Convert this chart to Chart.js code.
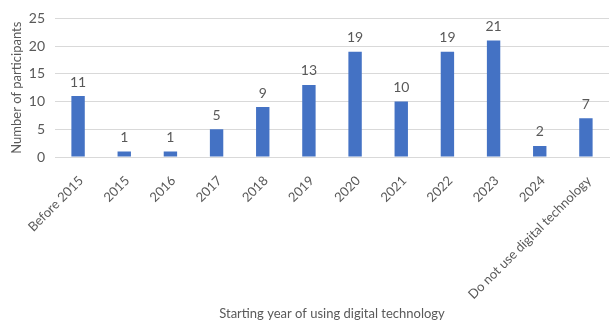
<!DOCTYPE html><html lang="en">
<head>
  <meta charset="UTF-8"/>
  <title>Starting year of using digital technology</title>
  <script src="https://cdn.jsdelivr.net/npm/chart.js"></script>
  <style>
    *{box-sizing:border-box;margin:0;padding:0}
    body{background:#fff;width:613px;height:322px;overflow:hidden}
    #wrap{position:relative;width:613px;height:322px}
  </style>
</head>
<body>
  <div id="wrap"><canvas id="chart"></canvas></div>
  <script>
    // chart data
    const categories=['Before 2015','2015','2016','2017','2018','2019','2020','2021','2022','2023','2024','Do not use digital technology'];
    const participants=[11,1,1,5,9,13,19,10,19,21,2,7];
    const yTicks=[0,5,10,15,20,25];

    const TEXT='#595959', FONT='Lato, "Open Sans", sans-serif';

    // value labels above each bar
    const barLabels={
      id:'barLabels',
      afterDatasetsDraw(chart){
        const ctx=chart.ctx;
        const meta=chart.getDatasetMeta(0);
        ctx.save();
        ctx.fillStyle=TEXT;
        ctx.font='14px '+FONT;
        ctx.textAlign='center';
        ctx.textBaseline='bottom';
        meta.data.forEach((bar,i)=>{
          ctx.fillText(String(participants[i]),bar.x,bar.y-7);
        });
        ctx.restore();
      }
    };

    new Chart(document.getElementById('chart'),{
      type:'bar',
      data:{labels:categories,datasets:[{data:participants,backgroundColor:'#4472C4',categoryPercentage:1,barPercentage:0.29}]},
      options:{
        responsive:true,maintainAspectRatio:false,animation:false,
        layout:{padding:{top:11,right:4,bottom:0,left:9}},
        plugins:{legend:{display:false},tooltip:{enabled:false}},
        scales:{
          x:{
            grid:{display:false},
            border:{color:'#d9d9d9'},
            ticks:{color:TEXT,font:{family:FONT,size:13},maxRotation:45,minRotation:45,autoSkip:false,padding:8,labelOffset:3},
            title:{display:true,text:'Starting year of using digital technology',color:TEXT,font:{family:FONT,size:13},padding:{top:4,bottom:0}},
            afterFit(s){s.height=165;}
          },
          y:{
            min:0,max:25,
            afterBuildTicks(s){s.ticks=yTicks.map(v=>({value:v}));},
            grid:{color:'#d9d9d9',drawTicks:false},
            border:{display:false},
            ticks:{color:TEXT,font:{family:FONT,size:14},padding:10},
            title:{display:true,text:'Number of participants',color:TEXT,font:{family:FONT,size:13},padding:{top:0,bottom:2}},
            afterFit(s){s.width=46;}
          }
        }
      },
      plugins:[barLabels]
    });
  </script>
</body>
</html>
